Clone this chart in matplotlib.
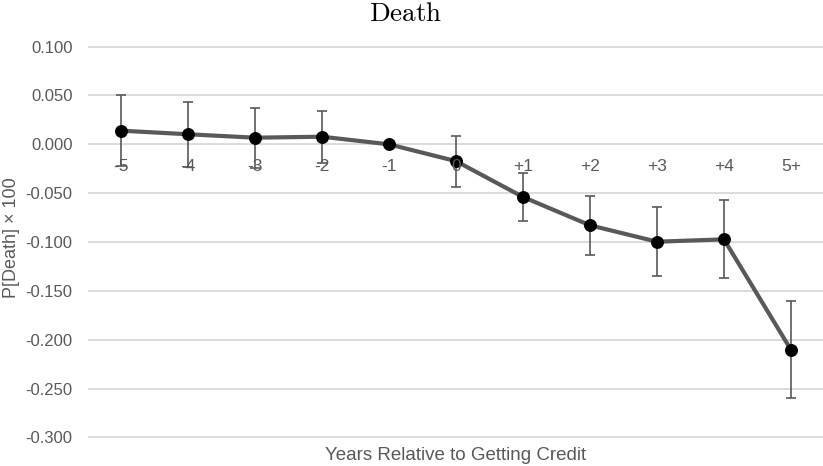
import matplotlib
matplotlib.use("Agg")
import matplotlib.pyplot as plt
from matplotlib.transforms import ScaledTranslation
import numpy as np

categories = ["-5", "-4", "-3", "-2", "-1", "0", "+1", "+2", "+3", "+4", "5+"]
values = [0.0140, 0.0103, 0.0068, 0.0078, 0.0, -0.0172, -0.0539, -0.0829, -0.0997, -0.0973, -0.2104]
errors = [0.0367, 0.0335, 0.0308, 0.0267, 0.0, 0.0260, 0.0250, 0.0300, 0.0353, 0.0398, 0.0497]
yticks = [0.100, 0.050, 0.000, -0.050, -0.100, -0.150, -0.200, -0.250, -0.300]

plt.rcParams['mathtext.fontset'] = 'cm'
plt.rcParams['font.family'] = ['Liberation Sans', 'DejaVu Sans']

W, H = 823, 466
fig = plt.figure(figsize=(W / 100, H / 100), dpi=100)
top_px, bot_px = 44.7, 439.3
ax = fig.add_axes([88 / W, 1 - bot_px / H, 735 / W, (bot_px - top_px) / H])

gray = '#595959'
x = np.arange(len(categories))
vals = np.array(values)
errs = np.array(errors)

mask = errs > 0
ax.errorbar(x[mask], vals[mask], yerr=errs[mask], fmt='none', ecolor=gray,
            elinewidth=1.2, capsize=3.3, capthick=1.2, zorder=3)
ax.plot(x, vals, color=gray, lw=3.0, zorder=4, solid_capstyle='round')
ax.plot(x, vals, 'o', color='black', markersize=8.3, zorder=5, linestyle='none')

ax.set_xlim(-0.4925, 10.478)
ax.set_ylim(-0.302, 0.102)
ax.set_yticks(yticks)
ax.set_yticklabels([f"{v:.3f}" for v in yticks])
ax.tick_params(axis='y', length=0, pad=11, labelsize=12, labelcolor=gray)
ax.set_xticks([])
ax.grid(axis='y', color='#dcdcdc', lw=1.4)
ax.set_axisbelow(True)
for s in ax.spines.values():
    s.set_visible(False)

off = ScaledTranslation(0, -10.5 / 72, fig.dpi_scale_trans)
for i, lab in enumerate(categories):
    ax.text(i, 0, lab, ha='center', va='top', fontsize=12.5, color=gray,
            transform=ax.transData + off, zorder=10)

fig.text(12 / W, 1 - 238 / H, "P[Death] × 100", rotation=90, ha='center',
         va='center', fontsize=13, color=gray)
fig.text(455.5 / W, 1 - 455 / H, "Years Relative to Getting Credit", ha='center',
         va='center', fontsize=13.5, color=gray)
fig.text(405.5 / W, 1 - 14 / H, r"$\mathrm{Death}$", ha='center', va='center',
         fontsize=19.5, color='black')

fig.savefig("out.png", dpi=100)
